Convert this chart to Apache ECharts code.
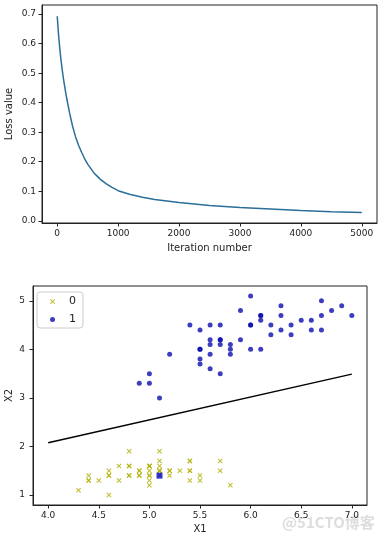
<!DOCTYPE html>
<html>
<head>
<meta charset="utf-8">
<script src="https://cdn.jsdelivr.net/npm/echarts@6/dist/echarts.min.js"></script>
<style>html,body{margin:0;padding:0;background:#fff;}#c{width:392px;height:542px;}</style>
</head>
<body>
<div id="c"></div>
<script>
// ---- Data ----
const iterations = [0,20,40,60,80,100,130,160,200,250,300,350,400,450,500,600,700,800,900,1000,1200,1400,1600,1800,2000,2500,3000,3500,4000,4500,5000];
const lossValues = [0.693,0.635,0.588,0.548,0.514,0.484,0.445,0.410,0.368,0.322,0.285,0.256,0.232,0.210,0.192,0.163,0.142,0.126,0.113,0.102,0.089,0.080,0.072,0.067,0.062,0.052,0.045,0.040,0.035,0.031,0.028];
const lossXTicks = [0,1000,2000,3000,4000,5000];
const lossYTicks = [0.0,0.1,0.2,0.3,0.4,0.5,0.6,0.7];

const class0X1 = [5.1,4.9,4.7,4.6,5.0,5.4,4.6,5.0,4.4,4.9,5.4,4.8,4.8,4.3,5.8,5.7,5.4,5.1,5.7,5.1,5.4,5.1,4.6,5.1,4.8,5.0,5.0,5.2,5.2,4.7,4.8,5.4,5.2,5.5,4.9,5.0,5.5,4.9,4.4,5.1,5.0,4.5,4.4,5.0,5.1,4.8,5.1,4.6,5.3,5.0];
const class0X2 = [1.4,1.4,1.3,1.5,1.4,1.7,1.4,1.5,1.4,1.5,1.5,1.6,1.4,1.1,1.2,1.5,1.3,1.4,1.7,1.5,1.7,1.5,1.0,1.7,1.9,1.6,1.6,1.5,1.4,1.6,1.6,1.5,1.5,1.4,1.5,1.2,1.3,1.4,1.3,1.5,1.3,1.3,1.3,1.6,1.9,1.4,1.6,1.4,1.5,1.4];
const class1X1 = [7.0,6.4,6.9,5.5,6.5,5.7,6.3,4.9,6.6,5.2,5.0,5.9,6.0,6.1,5.6,6.7,5.6,5.8,6.2,5.6,5.9,6.1,6.3,6.1,6.4,6.6,6.8,6.7,6.0,5.7,5.5,5.5,5.8,6.0,5.4,6.0,6.7,6.3,5.6,5.5,5.5,6.1,5.8,5.0,5.6,5.7,5.7,6.2,5.1,5.7];
const class1X2 = [4.7,4.5,4.9,4.0,4.6,4.5,4.7,3.3,4.6,3.9,3.5,4.2,4.0,4.7,3.6,4.4,4.5,4.1,4.5,3.9,4.8,4.0,4.9,4.7,4.3,4.4,4.8,5.0,4.5,3.5,3.8,3.7,3.9,5.1,4.5,4.5,4.7,4.4,4.1,4.0,4.4,4.6,4.0,3.3,4.2,4.2,4.2,4.3,3.0,4.1];
const boundaryX1 = [4.0, 7.0];
const boundaryX2 = [2.077, 3.49];
const markedX1 = [5.1];
const markedX2 = [1.4];
const scatterXTicks = [4.0,4.5,5.0,5.5,6.0,6.5,7.0];
const scatterYTicks = [1,2,3,4,5];

// ---- Build ----
const zip = (a, b) => a.map((v, i) => [v, b[i]]);
const FONT = 'DejaVu Sans';
const INK = '#222';
const tickStyle = vals => ({ show: true, length: 3.5, lineStyle: { color: INK }, customValues: vals });
const labelStyle = (vals, margin, fmt) => ({ customValues: vals, fontFamily: FONT, fontSize: 9, color: INK, margin: margin, formatter: fmt });
const axisCommon = {
  axisLine: { show: true, onZero: false, lineStyle: { color: INK, width: 1 } },
  splitLine: { show: false },
  nameMoveOverlap: false,
  nameTextStyle: { fontFamily: FONT, fontSize: 10, color: INK }
};
const xMarker = 'path://M0,1.5L1.5,0L5,3.5L8.5,0L10,1.5L6.5,5L10,8.5L8.5,10L5,6.5L1.5,10L0,8.5L3.5,5Z';

const chart = echarts.init(document.getElementById('c'), null, { renderer: 'canvas' });
chart.setOption({
  animation: false,
  backgroundColor: '#fff',
  textStyle: { fontFamily: FONT },
  grid: [
    { left: 42, top: 5, width: 335, height: 218, show: true, borderColor: INK, borderWidth: 1, containLabel: false, outerBoundsMode: 'none' },
    { left: 33, top: 286, width: 334, height: 219, show: true, borderColor: INK, borderWidth: 1, containLabel: false, outerBoundsMode: 'none' }
  ],
  xAxis: [
    Object.assign({}, axisCommon, {
      gridIndex: 0, type: 'value', min: -250, max: 5250,
      name: 'Iteration number', nameLocation: 'middle', nameGap: 20,
      axisTick: tickStyle(lossXTicks),
      axisLabel: labelStyle(lossXTicks, 6, v => String(Math.round(v)))
    }),
    Object.assign({}, axisCommon, {
      gridIndex: 1, type: 'value', min: 3.85, max: 7.15,
      name: 'X1', nameLocation: 'middle', nameGap: 19,
      axisTick: tickStyle(scatterXTicks),
      axisLabel: labelStyle(scatterXTicks, 6, v => v.toFixed(1))
    })
  ],
  yAxis: [
    Object.assign({}, axisCommon, {
      gridIndex: 0, type: 'value', min: -0.0075, max: 0.731,
      name: 'Loss value', nameLocation: 'middle', nameGap: 28, nameRotate: 90,
      axisTick: tickStyle(lossYTicks),
      axisLabel: labelStyle(lossYTicks, 6, v => v.toFixed(1))
    }),
    Object.assign({}, axisCommon, {
      gridIndex: 1, type: 'value', min: 0.795, max: 5.305,
      name: 'X2', nameLocation: 'middle', nameGap: 19, nameRotate: 90,
      axisTick: tickStyle(scatterYTicks),
      axisLabel: labelStyle(scatterYTicks, 8, v => String(Math.round(v)))
    })
  ],
  legend: {
    data: ['0', '1'],
    orient: 'vertical',
    left: 37, top: 292,
    padding: [4, 7, 3, 13],
    itemWidth: 5, itemHeight: 5, itemGap: 7,
    borderColor: '#cccccc', borderWidth: 1, borderRadius: 3,
    backgroundColor: 'rgba(255,255,255,0.8)',
    textStyle: { fontFamily: FONT, fontSize: 11, color: INK, padding: [0, 0, 0, 9] }
  },
  series: [
    {
      type: 'line', xAxisIndex: 0, yAxisIndex: 0,
      data: zip(iterations, lossValues),
      showSymbol: false, smooth: false,
      lineStyle: { color: '#2a6e9a', width: 1.5 }
    },
    {
      name: '0', type: 'scatter', xAxisIndex: 1, yAxisIndex: 1,
      data: zip(class0X1, class0X2),
      symbol: xMarker, symbolSize: 5,
      itemStyle: { color: '#b0b000' }
    },
    {
      name: '1', type: 'scatter', xAxisIndex: 1, yAxisIndex: 1,
      data: zip(class1X1, class1X2),
      symbol: 'circle', symbolSize: 5,
      itemStyle: { color: '#0c0cb0' }
    },
    {
      name: 'marked', type: 'scatter', xAxisIndex: 1, yAxisIndex: 1,
      data: zip(markedX1, markedX2),
      symbol: 'rect', symbolSize: 6,
      itemStyle: { color: '#0a0ad0' }, z: 5
    },
    {
      type: 'line', xAxisIndex: 1, yAxisIndex: 1,
      data: zip(boundaryX1, boundaryX2),
      showSymbol: false,
      lineStyle: { color: '#000', width: 1.5 }
    }
  ],
  graphic: [
    { type: 'text', left: 282, top: 515, silent: true,
      style: { text: '@51CTO博客', fontFamily: 'Noto Sans CJK SC', fontSize: 15, fontWeight: 'bold', fill: 'rgba(180,180,180,0.45)' } }
  ]
});
</script>
</body>
</html>
